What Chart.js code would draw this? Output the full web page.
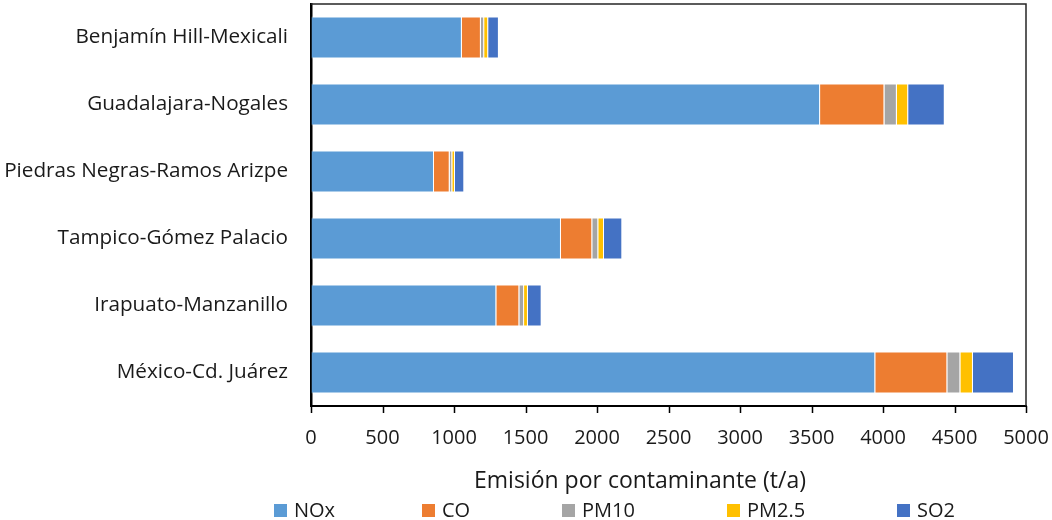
<!DOCTYPE html>
<html>
<head>
<meta charset="utf-8">
<script src="https://cdn.jsdelivr.net/npm/chart.js@4/dist/chart.umd.min.js"></script>
<style>
  html, body { margin: 0; padding: 0; background: #fff; }
  #wrap { width: 1052px; height: 520px; position: relative; }
</style>
</head>
<body>
<div id="wrap"><canvas id="c"></canvas></div>
<script>
// Corridors (top to bottom)
const corredores = [
  'Benjamín Hill-Mexicali',
  'Guadalajara-Nogales',
  'Piedras Negras-Ramos Arizpe',
  'Tampico-Gómez Palacio',
  'Irapuato-Manzanillo',
  'México-Cd. Juárez'
];

// Emissions per pollutant (t/a)
const nox  = [1055, 3560, 860, 1748, 1296, 3946];
const co   = [ 133,  450, 110,  219,  161,  504];
const pm10 = [  23,   87,  18,   42,   33,   91];
const pm25 = [  28,   79,  19,   40,   27,   88];
const so2  = [  75,  256,  65,  128,   96,  287];

const xTicks = [0, 500, 1000, 1500, 2000, 2500, 3000, 3500, 4000, 4500, 5000];
const xTitle = 'Emisión por contaminante (t/a)';

const FONT = '"Open Sans", sans-serif';
const TXT = '#1a1a1a';

const series = [
  { label: 'NOx',   data: nox,  color: '#5B9BD5' },
  { label: 'CO',    data: co,   color: '#ED7D31' },
  { label: 'PM10',  data: pm10, color: '#A5A5A5' },
  { label: 'PM2.5', data: pm25, color: '#FFC000' },
  { label: 'SO2',   data: so2,  color: '#4472C4' }
];

// Plot frame, short tick marks, axis title and legend row
const decorations = {
  id: 'decorations',
  afterDraw(chart) {
    const { ctx, chartArea: a } = chart;
    const xs = chart.scales.x;
    ctx.save();

    // top and right edges of the plot frame
    ctx.strokeStyle = '#262626';
    ctx.lineWidth = 1.5;
    ctx.beginPath();
    ctx.moveTo(a.left, a.top);
    ctx.lineTo(a.right, a.top);
    ctx.lineTo(a.right, a.bottom);
    ctx.stroke();

    // outward tick marks on the value axis
    ctx.strokeStyle = '#000';
    ctx.lineWidth = 1.5;
    ctx.beginPath();
    xTicks.forEach(v => {
      const px = Math.round(xs.getPixelForValue(v)) + 0.5;
      ctx.moveTo(px, a.bottom);
      ctx.lineTo(px, a.bottom + 7);
    });
    ctx.stroke();

    // axis title
    ctx.fillStyle = TXT;
    ctx.font = '23px ' + FONT;
    ctx.textAlign = 'center';
    ctx.textBaseline = 'alphabetic';
    ctx.fillText(xTitle, 640, 488);

    // legend
    const slots = [274, 422, 562, 727, 897];
    ctx.font = '20px ' + FONT;
    ctx.textAlign = 'left';
    chart.data.datasets.forEach((ds, i) => {
      ctx.fillStyle = ds.backgroundColor;
      ctx.fillRect(slots[i], 504, 13, 13);
      ctx.fillStyle = TXT;
      ctx.fillText(ds.label, slots[i] + 20, 517);
    });
    ctx.restore();
  }
};

new Chart(document.getElementById('c'), {
  type: 'bar',
  data: {
    labels: corredores,
    datasets: series.map(s => ({
      label: s.label,
      data: s.data,
      backgroundColor: s.color,
      borderColor: 'rgba(255,255,255,0.45)',
      borderWidth: 1,
      barPercentage: 0.627,
      categoryPercentage: 1.0
    }))
  },
  options: {
    indexAxis: 'y',
    responsive: true,
    maintainAspectRatio: false,
    animation: false,
    layout: { padding: { top: 4, right: 26, left: 0, bottom: 0 } },
    plugins: {
      legend: { display: false },
      tooltip: { enabled: false }
    },
    scales: {
      x: {
        stacked: true,
        min: 0,
        max: 5000,
        afterBuildTicks(scale) {
          scale.ticks = xTicks.map(v => ({ value: v }));
        },
        afterFit(scale) {
          scale.height = 114;
          scale.paddingLeft = 0;
          scale.paddingRight = 0;
        },
        grid: {
          drawOnChartArea: false,
          drawTicks: true,
          tickLength: 20,
          tickColor: 'rgba(0,0,0,0)'
        },
        border: { display: true, color: '#000', width: 2 },
        ticks: {
          color: TXT,
          font: { family: FONT, size: 20 },
          padding: 0,
          maxRotation: 0,
          autoSkip: false,
          callback: v => String(v)
        }
      },
      y: {
        stacked: true,
        afterFit(scale) {
          scale.width = 311;
          scale.paddingTop = 0;
          scale.paddingBottom = 0;
        },
        grid: { display: false, drawTicks: true, tickLength: 23 },
        border: { display: true, color: '#000', width: 2.5 },
        ticks: {
          color: TXT,
          font: { family: FONT, size: 20.7 },
          padding: 0,
          autoSkip: false
        }
      }
    }
  },
  plugins: [decorations]
});
</script>
</body>
</html>
